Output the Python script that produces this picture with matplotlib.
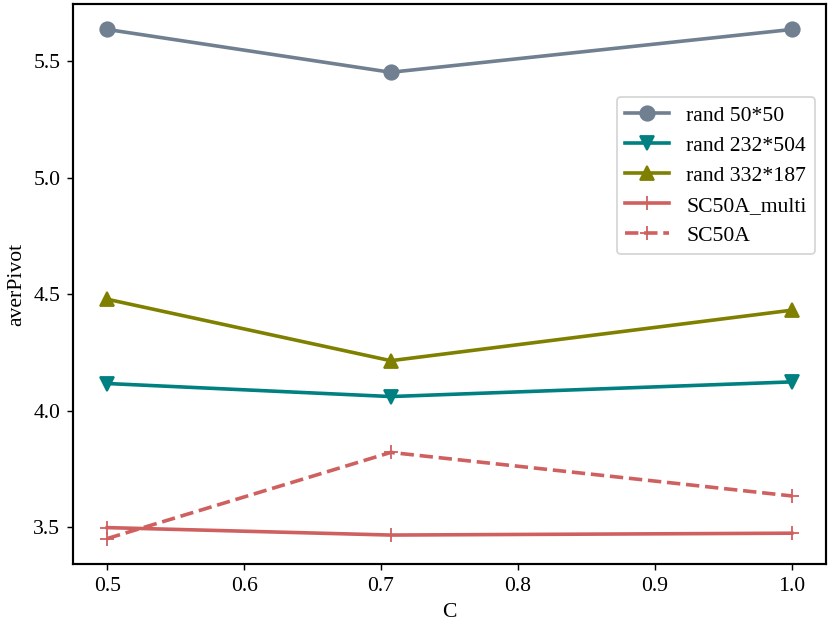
import numpy as np
import matplotlib
matplotlib.use("Agg")
import matplotlib.pyplot as plt

plt.rcParams['font.family'] = ['Liberation Serif', 'DejaVu Serif']
plt.rcParams['font.size'] = 12

# C 取值
c_vals = [0.5, 0.7071, 1.0]

# 各数据集的平均 pivot 数
rand_50 = [5.637, 5.453, 5.637]
rand_232 = [4.116, 4.060, 4.123]
rand_332 = [4.478, 4.214, 4.431]
sc50a_multi = [3.497, 3.465, 3.473]
sc50a = [3.450, 3.820, 3.633]

labels = ["rand 50*50", "rand 232*504", "rand 332*187", "SC50A_multi", "SC50A"]

fig = plt.figure(figsize=(831 / 130, 624 / 130), dpi=130)
ax = fig.add_axes([73 / 831, 1 - 564 / 624, (826 - 73) / 831, (564 - 4) / 624])

ax.plot(c_vals, rand_50, color="#708090", marker="o", lw=2, ms=8, label=labels[0])
ax.plot(c_vals, rand_232, color="#008080", marker="v", lw=2, ms=8, label=labels[1])
ax.plot(c_vals, rand_332, color="#808000", marker="^", lw=2, ms=8, label=labels[2])
ax.plot(c_vals, sc50a_multi, color="#d06060", marker="+", lw=2, ms=8, label=labels[3])
ax.plot(c_vals, sc50a, color="#d06060", marker="+", lw=2, ms=8, ls="--", label=labels[4])

ax.set_xlabel("C")
ax.set_ylabel("averPivot")
ax.set_xticks([0.5, 0.6, 0.7, 0.8, 0.9, 1.0])
ax.set_yticks([3.5, 4.0, 4.5, 5.0, 5.5])
for s in ax.spines.values():
    s.set_linewidth(1.2)

ax.legend(loc="upper right", bbox_to_anchor=(1.0, 0.853), labelspacing=0.45)

fig.savefig("out.png", dpi=130)
